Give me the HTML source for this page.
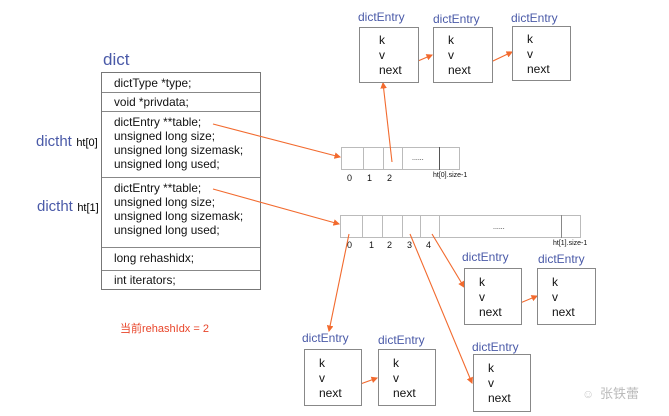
<!DOCTYPE html>
<html><head><meta charset="utf-8"><style>
body{margin:0;background:#fff;width:669px;height:416px;overflow:hidden;font-family:"Liberation Sans","Noto Sans CJK SC",sans-serif}
.a{position:absolute}
.bl{color:#4a5aa8}
.box{position:absolute;border:1px solid #888;background:#fff;font-size:12px;line-height:15px;color:#111;box-sizing:border-box;padding:5px 0 0 19px}
.lbl{position:absolute;color:#4a5aa8;font-size:12px}
.row{position:absolute;left:0;width:100%;border-top:1px solid #888;box-sizing:border-box}
.t{position:absolute;font-size:11.8px;color:#111;line-height:14px;left:12px}
</style></head><body>
<div class="a bl" style="left:103px;top:50px;font-size:17px">dict</div>
<div class="a" style="left:36px;top:133px"><span class="bl" style="font-size:15px">dictht</span> <span style="font-size:11px">ht[0]</span></div>
<div class="a" style="left:37px;top:198px"><span class="bl" style="font-size:15px">dictht</span> <span style="font-size:11px">ht[1]</span></div>
<div class="a" style="left:101px;top:72px;width:160px;height:218px;border:1px solid #777;box-sizing:border-box">
<div class="row" style="top:19px"></div><div class="row" style="top:38px"></div><div class="row" style="top:104px"></div><div class="row" style="top:174px"></div><div class="row" style="top:197px"></div>
<div class="t" style="top:3px">dictType *type;</div>
<div class="t" style="top:22px">void *privdata;</div>
<div class="t" style="top:42px">dictEntry **table;<br>unsigned long size;<br>unsigned long sizemask;<br>unsigned long used;</div>
<div class="t" style="top:108px">dictEntry **table;<br>unsigned long size;<br>unsigned long sizemask;<br>unsigned long used;</div>
<div class="t" style="top:178px">long rehashidx;</div>
<div class="t" style="top:200px">int iterators;</div>
</div>
<div class="a" style="left:120px;top:320px;color:#e8452a;font-size:11px">当前rehashIdx = 2</div>

<svg class="a" style="left:0;top:0" width="669" height="416">
<g fill="none" stroke="#bbb">
<rect x="341.5" y="147.5" width="118" height="22"/>
<line x1="363.5" y1="147" x2="363.5" y2="170"/><line x1="383.5" y1="147" x2="383.5" y2="170"/><line x1="402.5" y1="147" x2="402.5" y2="170"/>
<rect x="340.5" y="215.5" width="240" height="22"/>
<line x1="362.5" y1="215" x2="362.5" y2="238"/><line x1="382.5" y1="215" x2="382.5" y2="238"/><line x1="402.5" y1="215" x2="402.5" y2="238"/><line x1="420.5" y1="215" x2="420.5" y2="238"/><line x1="439.5" y1="215" x2="439.5" y2="238"/>
</g>
<line x1="439.5" y1="147" x2="439.5" y2="170" stroke="#555"/>
<line x1="561.5" y1="215" x2="561.5" y2="238" stroke="#888"/>
<g font-family="Liberation Sans" font-size="9" fill="#111">
<text x="347" y="181">0</text><text x="367" y="181">1</text><text x="387" y="181">2</text>
<text x="433" y="177" font-size="7">ht[0].size-1</text>
<text x="412" y="160" font-size="7">......</text>
<text x="347" y="248">0</text><text x="369" y="248">1</text><text x="387" y="248">2</text><text x="407" y="248">3</text><text x="426" y="248">4</text>
<text x="553" y="245" font-size="7">ht[1].size-1</text>
<text x="493" y="229" font-size="7">......</text>
</g>
<defs><marker id="m" markerWidth="6" markerHeight="6" refX="5" refY="3" orient="auto"><path d="M0,0L6,3L0,6z" fill="#f26a2e"/></marker></defs>
<g stroke="#f26a2e" stroke-width="1.1" fill="none" marker-end="url(#m)">
<path d="M213,124L340,157"/>
<path d="M213,189L339,224"/>
<path d="M392,162L383,83"/>
<path d="M349,234L329,331"/>
<path d="M410,234L472,383"/>
<path d="M432,234L464,287"/>
<path d="M397,70L432,55"/>
<path d="M474,70L512,52"/>
<path d="M341,391L377,378"/>
<path d="M501,311L537,296"/>
</g>
<text x="600" y="398" font-family="Noto Sans CJK SC" font-size="13" fill="#bbb">张铁蕾</text>
<text x="582" y="398" font-size="12" fill="#ccc">☺</text>
</svg>

<div class="lbl" style="left:358px;top:10px">dictEntry</div>
<div class="box" style="left:359px;top:27px;width:60px;height:56px">k<br>v<br>next</div>
<div class="lbl" style="left:433px;top:12px">dictEntry</div>
<div class="box" style="left:433px;top:27px;width:60px;height:56px;padding-left:14px">k<br>v<br>next</div>
<div class="lbl" style="left:511px;top:11px">dictEntry</div>
<div class="box" style="left:512px;top:26px;width:59px;height:55px;padding-left:14px">k<br>v<br>next</div>

<div class="lbl" style="left:462px;top:250px">dictEntry</div>
<div class="box" style="left:464px;top:268px;width:58px;height:57px;padding-left:14px;padding-top:6px">k<br>v<br>next</div>
<div class="lbl" style="left:538px;top:252px">dictEntry</div>
<div class="box" style="left:537px;top:268px;width:59px;height:57px;padding-left:14px;padding-top:6px">k<br>v<br>next</div>

<div class="lbl" style="left:302px;top:331px">dictEntry</div>
<div class="box" style="left:304px;top:349px;width:58px;height:57px;padding-left:14px;padding-top:6px">k<br>v<br>next</div>
<div class="lbl" style="left:378px;top:333px">dictEntry</div>
<div class="box" style="left:378px;top:349px;width:58px;height:57px;padding-left:14px;padding-top:6px">k<br>v<br>next</div>
<div class="lbl" style="left:472px;top:340px">dictEntry</div>
<div class="box" style="left:473px;top:354px;width:58px;height:58px;padding-left:14px;padding-top:6px">k<br>v<br>next</div>
</body></html>
